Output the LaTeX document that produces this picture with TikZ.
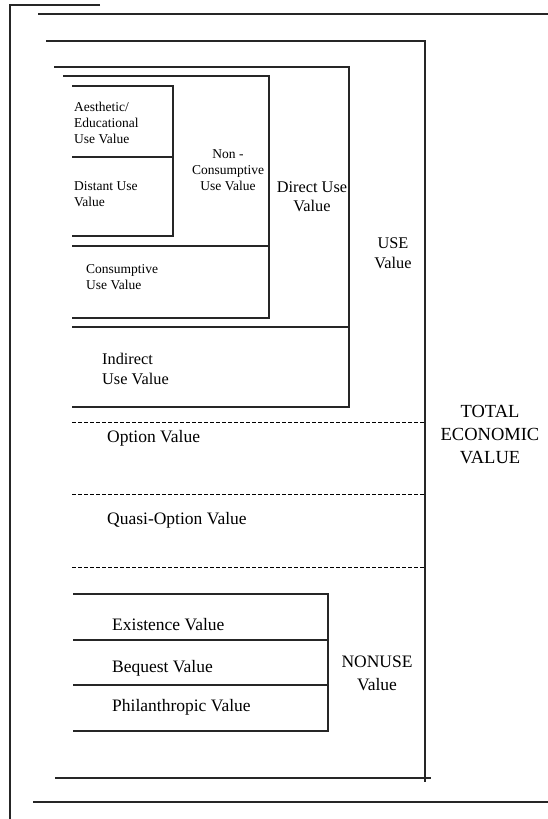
\documentclass[tikz,border=0pt]{standalone}
\usepackage{fontspec}
\setmainfont{Liberation Serif}
\begin{document}
\begin{tikzpicture}[x=1pt,y=-1pt,
  frame/.style={line width=1.1pt,black!85},
  sep/.style={line width=0.9pt,dashed,dash pattern=on 3.5pt off 2.5pt},
  small/.style={font=\fontsize{13.5}{16}\selectfont,inner sep=0pt},
  mid/.style={font=\fontsize{16.3}{19.5}\selectfont,inner sep=0pt},
  big/.style={font=\fontsize{17.5}{23}\selectfont,inner sep=0pt},
  huge/.style={font=\fontsize{18.5}{23}\selectfont,inner sep=0pt}]
\useasboundingbox (0,0) rectangle (548,819);

% outer frame lines
\draw[frame] (100,5) -- (10,5) -- (10,819);
\draw[frame] (38,14) -- (548,14);
\draw[frame] (46,41) -- (425,41) -- (425,782);
\draw[frame] (55,778) -- (431,778);
\draw[frame] (33,802) -- (548,802);

% direct use block
\draw[frame] (54,67) -- (349,67) -- (349,407) -- (72,407);
\draw[frame] (72,327) -- (349,327);
% non-consumptive / consumptive block
\draw[frame] (63,76) -- (269,76) -- (269,318) -- (72,318);
\draw[frame] (72,246) -- (269,246);
% innermost block
\draw[frame] (72,86) -- (173,86) -- (173,236) -- (72,236);
\draw[frame] (72,157) -- (173,157);

% dashed separators
\draw[sep] (72,422) -- (425,422);
\draw[sep] (72,494) -- (425,494);
\draw[sep] (72,567) -- (425,567);

% nonuse block
\draw[frame] (73,594) -- (328,594) -- (328,731) -- (73,731);
\draw[frame] (73,640) -- (328,640);
\draw[frame] (73,685) -- (328,685);

% labels
\node[small,anchor=west,align=left] (aes) at (74,123) {Aesthetic/\\Educational\\Use Value};
\node[small,anchor=west,align=left] (dist) at (74,194) {Distant Use\\Value};
\node[small,align=center] (noncons) at (228,170) {Non -\\Consumptive\\Use Value};
\node[mid,align=center] (direct) at (312,196.5) {Direct Use\\Value};
\node[small,anchor=west,align=left] (cons) at (86,277.5) {Consumptive\\Use Value};
\node[mid,anchor=west,align=left] (indirect) at (102,369) {Indirect\\Use Value};
\node[big,anchor=west] (option) at (107,438) {Option Value};
\node[big,anchor=west] (quasi) at (107,520) {Quasi-Option Value};
\node[mid,align=center] (use) at (393,253) {USE\\Value};
\node[huge,align=center] (total) at (490,435) {TOTAL\\ECONOMIC\\VALUE};
\node[big,anchor=west] (exist) at (112,625) {Existence Value};
\node[big,anchor=west] (bequest) at (112,668) {Bequest Value};
\node[big,anchor=west] (phil) at (112,707) {Philanthropic Value};
\node[big,align=center] (nonuse) at (377,673) {NONUSE\\Value};
\end{tikzpicture}
\end{document}
